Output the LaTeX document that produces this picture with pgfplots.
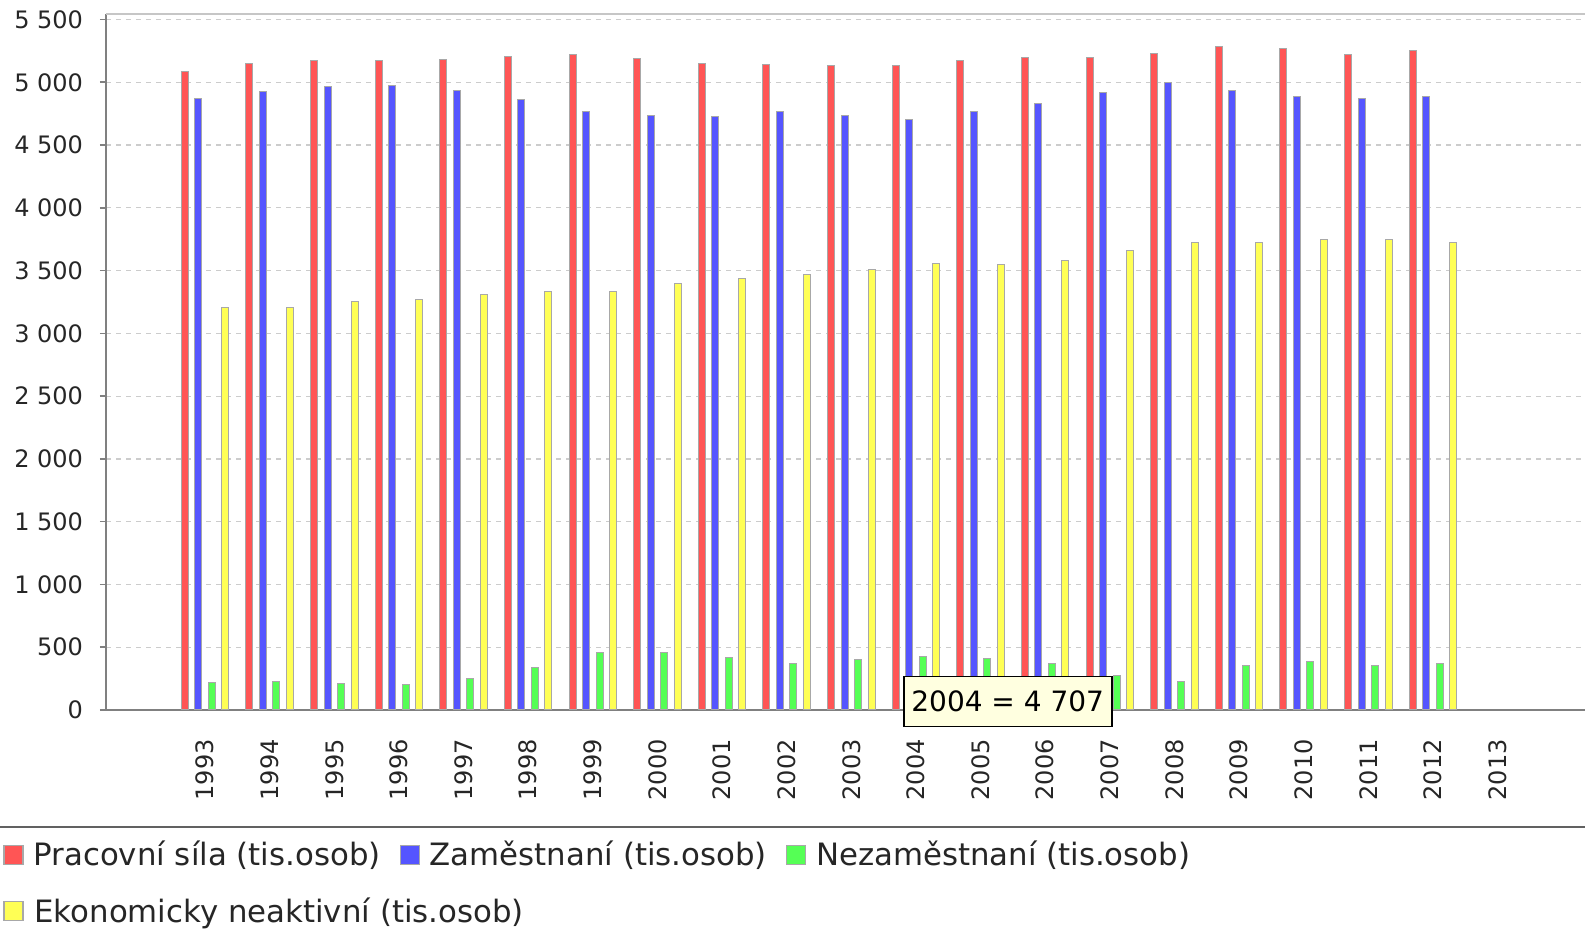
\documentclass[border=0pt]{standalone}
\usepackage{pgfplots}
\pgfplotsset{compat=1.18}
\usepackage{pgfplotstable}
\usepackage{fontspec}
\setmainfont{DejaVu Sans}
\definecolor{cRed}{HTML}{FF5555}
\definecolor{cBlue}{HTML}{5555FF}
\definecolor{cGreen}{HTML}{55FF55}
\definecolor{cYellow}{HTML}{FFFF55}
\definecolor{cTip}{HTML}{FFFFE0}
\definecolor{cEdge}{HTML}{A8A8A8}

\pgfplotstableread{
idx year prac zam nez neak
0  1993 5089 4873 216 3210
1  1994 5150 4927 223 3210
2  1995 5171 4963 208 3250
3  1996 5173 4972 201 3270
4  1997 5185 4937 248 3310
5  1998 5202 4866 336 3335
6  1999 5218 4764 454 3335
7  2000 5187 4732 455 3400
8  2001 5146 4728 418 3440
9  2002 5139 4765 374 3465
10 2003 5132 4733 399 3505
11 2004 5133 4707 426 3555
12 2005 5174 4764 410 3550
13 2006 5199 4828 371 3580
14 2007 5198 4922 276 3660
15 2008 5232 5002 230 3720
16 2009 5286 4934 352 3720
17 2010 5269 4885 384 3745
18 2011 5223 4872 351 3745
19 2012 5257 4890 367 3720
}\data

\begin{document}
\begin{tikzpicture}
\useasboundingbox (0,0) rectangle (792.5pt,464.5pt);
\begin{axis}[
  at={(53pt,109.5pt)}, anchor=south west,
  scale only axis, width=739.5pt, height=347.75pt,
  xmin=-1.532, xmax=21.352, ymin=0, ymax=5540,
  clip=false,
  axis x line*=bottom, axis y line*=left,
  axis line style={draw=gray, line width=1pt},
  xtick={0,...,20},
  xticklabels={1993,1994,1995,1996,1997,1998,1999,2000,2001,2002,2003,2004,2005,2006,2007,2008,2009,2010,2011,2012,2013},
  xtick style={draw=none},
  xticklabel style={rotate=90, anchor=east, inner sep=0pt},
  xticklabel shift=11.5pt,
  ytick={0,500,...,5500},
  yticklabels={0,500,1~000,1~500,2~000,2~500,3~000,3~500,4~000,4~500,5~000,5~500},
  yticklabel style={anchor=east, inner sep=0pt},
  yticklabel shift=8.3pt,
  ytick style={draw=gray, line width=0.8pt},
  tick align=outside, major tick length=3pt,
  tick label style={font=\fontsize{12}{14}\selectfont, text=black!85},
  /pgf/number format/assume math mode=true,
  ymajorgrids,
  grid style={gray!40, line width=0.6pt, dash pattern=on 2.5pt off 2.5pt},
  legend image code/.code={\draw[#1] (0pt,-4.75pt) rectangle (9.5pt,4.75pt);},
  legend columns=3,
  legend cell align=left,
  legend style={at={(axis description cs:-0.0697,-0.1875)}, anchor=north west,
    draw=none, fill=none, inner sep=0pt, row sep=14.5pt,
    font=\fontsize{15.4}{18}\selectfont, text=black!85,
    nodes={inner sep=0pt},
    /tikz/every odd column/.style={column sep=5pt},
    /tikz/every even column/.style={column sep=9.5pt}},
]
\addplot[ybar, bar width=3.5pt, bar shift=-10.125pt, fill=cRed, draw=cEdge, line width=0.5pt, forget plot] table[x=idx, y=prac]{\data};
\addplot[ybar, bar width=3.5pt, bar shift=-3.375pt, fill=cBlue, draw=cEdge, line width=0.5pt, forget plot] table[x=idx, y=zam]{\data};
\addplot[ybar, bar width=3.5pt, bar shift=3.375pt, fill=cGreen, draw=cEdge, line width=0.5pt, forget plot] table[x=idx, y=nez]{\data};
\addplot[ybar, bar width=3.5pt, bar shift=10.125pt, fill=cYellow, draw=cEdge, line width=0.5pt, forget plot] table[x=idx, y=neak]{\data};
\addlegendimage{fill=cRed, draw=cEdge, line width=0.6pt}
\addlegendentry{Pracovní síla (tis.osob)}
\addlegendimage{fill=cBlue, draw=cEdge, line width=0.6pt}
\addlegendentry{Zaměstnaní (tis.osob)}
\addlegendimage{fill=cGreen, draw=cEdge, line width=0.6pt}
\addlegendentry{Nezaměstnaní (tis.osob)}
\addlegendimage{fill=cYellow, draw=cEdge, line width=0.6pt}
\addlegendentry{\makebox[0pt][l]{Ekonomicky neaktivní (tis.osob)}}
\draw[gray!45, line width=1pt] (rel axis cs:0,1) -- (rel axis cs:1,1);
\node[draw=black, line width=0.9pt, fill=cTip, minimum width=104pt, minimum height=25pt, inner sep=0pt, font=\fontsize{14}{16}\selectfont] at (axis cs:12.42,68) {2004 = 4~707};
\end{axis}
\draw[line width=1.1pt, color=black!62] (0pt,51pt) -- (792.5pt,51pt);
\end{tikzpicture}
\end{document}
